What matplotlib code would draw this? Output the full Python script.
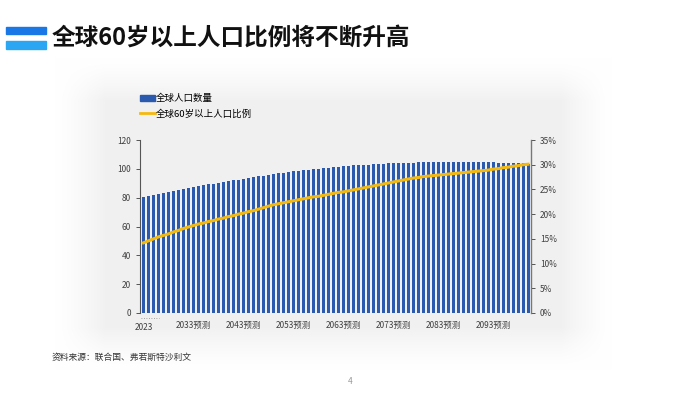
import numpy as np
import matplotlib
matplotlib.use("Agg")
import matplotlib.pyplot as plt
from matplotlib.patches import Rectangle, Patch
from matplotlib.lines import Line2D

plt.rcParams['font.family'] = ['Noto Sans CJK SC', 'DejaVu Sans']

# data
years = list(range(2023, 2101))
population = [
    80.5, 81.2, 82.0, 82.7, 83.4, 84.1, 84.8, 85.4, 86.1, 86.8,
    87.4, 88.0, 88.6, 89.2, 89.8, 90.4, 90.9, 91.5, 92.0, 92.5,
    93.0, 93.6, 94.2, 94.8, 95.3, 95.8, 96.3, 96.8, 97.3, 97.8,
    98.2, 98.6, 99.0, 99.4, 99.8, 100.2, 100.6, 100.9, 101.2, 101.5,
    101.8, 102.1, 102.4, 102.6, 102.8, 103.0, 103.2, 103.4, 103.6, 103.8,
    103.9, 104.0, 104.1, 104.2, 104.3, 104.4, 104.5, 104.5, 104.6, 104.6,
    104.7, 104.7, 104.7, 104.7, 104.7, 104.7, 104.6, 104.6, 104.6, 104.5,
    104.4, 104.3, 104.2, 104.1, 104.0, 103.8, 103.7, 103.5,
]
share_60plus = [
    14.2, 14.6, 15.0, 15.4, 15.7, 16.0, 16.4, 16.7, 17.1, 17.4,
    17.7, 18.0, 18.2, 18.5, 18.7, 19.0, 19.2, 19.5, 19.7, 20.0,
    20.2, 20.5, 20.7, 21.0, 21.3, 21.6, 21.9, 22.1, 22.3, 22.5,
    22.7, 22.9, 23.1, 23.3, 23.5, 23.6, 23.8, 24.0, 24.2, 24.4,
    24.5, 24.7, 24.9, 25.1, 25.3, 25.5, 25.7, 25.9, 26.1, 26.3,
    26.5, 26.7, 26.9, 27.1, 27.3, 27.4, 27.6, 27.7, 27.8, 27.9,
    28.0, 28.1, 28.2, 28.3, 28.4, 28.5, 28.6, 28.7, 28.8, 28.9,
    29.1, 29.2, 29.4, 29.5, 29.7, 29.8, 30.0, 30.1,
]
tick_years = [2023, 2033, 2043, 2053, 2063, 2073, 2083, 2093]
tick_labels = ['2023', '2033预测', '2043预测', '2053预测', '2063预测',
               '2073预测', '2083预测', '2093预测']

title = '全球60岁以上人口比例将不断升高'
source = '资料来源：联合国、弗若斯特沙利文'

BLUE = '#2a59ad'
YELLOW = '#f4b90f'

fig = plt.figure(figsize=(7, 3.97), dpi=100)
fig.patch.set_facecolor('white')

# soft grey panel behind the chart
bg = fig.add_axes([0, 0, 1, 1])
bg.set_xlim(0, 700)
bg.set_ylim(397, 0)
bg.axis('off')
gx = np.linspace(0, 700, 700)
gy = np.linspace(0, 397, 397)
X, Y = np.meshgrid(gx, gy)
def ramp(v, a, b, w):
    lo = np.clip((v - a) / w, 0, 1)
    hi = np.clip((b - v) / w, 0, 1)
    return lo * hi
mask = ramp(X, 55, 612, 50) * ramp(Y, 58, 370, 42)
mask = mask ** 1.3
img = np.ones((397, 700, 3))
img -= mask[..., None] * 0.055
bg.imshow(img, extent=(0, 700, 397, 0), aspect='auto', zorder=0)

# title icon
bg.add_patch(Rectangle((6, 27), 40, 7, color='#1a78e6', zorder=2))
bg.add_patch(Rectangle((6, 41), 40, 8, color='#2aa6f2', zorder=2))
fig.text(52 / 700, 1 - 38 / 397, title, fontsize=17, fontweight='bold',
         va='center', ha='left', color='#111111')

fig.text(52 / 700, 1 - 357 / 397, source, fontsize=6.3, va='center',
         ha='left', color='#333333')
fig.text(350 / 700, 1 - 381 / 397, '4', fontsize=6, va='center',
         ha='center', color='#999999')

ax = fig.add_axes([140 / 700, 1 - 313 / 397, 391 / 700, 173 / 397])
ax.patch.set_alpha(0)
x = np.arange(len(years))
ax.bar(x, population, width=0.6, color=BLUE, zorder=2)
ax.set_xlim(-0.7, len(years) - 0.4)
ax.set_ylim(0, 120)
ax.set_yticks(range(0, 121, 20))
ax.set_xticks([years.index(y) for y in tick_years])
ax.set_xticklabels(tick_labels)
ax.tick_params(axis='x', length=0, labelsize=6, colors='#404040', pad=6)
ax.get_xticklabels()[0].set_y(-0.012)
ax.tick_params(axis='y', length=3, width=0.7, labelsize=6, colors='#404040',
               direction='out', color='#555555')
for s in ['top', 'right', 'bottom']:
    ax.spines[s].set_visible(False)
ax.spines['left'].set_color('#555555')
ax.spines['left'].set_linewidth(0.8)
# small dotted marks above the first label
ax.plot([-0.5, 3.2], [-3.3, -3.3], ls=(0, (1, 2)), color='#888888', lw=0.6,
        clip_on=False)

ax2 = ax.twinx()
ax2.plot(x, share_60plus, color=YELLOW, lw=2.2, zorder=3)
ax2.set_ylim(0, 35)
ax2.set_yticks(range(0, 36, 5))
ax2.set_yticklabels([f'{v}%' for v in range(0, 36, 5)])
ax2.tick_params(axis='y', length=3, width=0.7, labelsize=6, colors='#404040',
                color='#555555')
for s in ['top', 'left', 'bottom']:
    ax2.spines[s].set_visible(False)
ax2.spines['right'].set_color('#777777')
ax2.spines['right'].set_linewidth(1.0)

handles = [Patch(color=BLUE, label='全球人口数量'),
           Line2D([], [], color=YELLOW, lw=2, label='全球60岁以上人口比例')]
fig.legend(handles=handles, loc='upper left',
           bbox_to_anchor=(140 / 700, 1 - 94 / 397), frameon=False,
           fontsize=6.8, handlelength=1.6, handleheight=0.6,
           handletextpad=0.1, labelspacing=0.6, borderaxespad=0,
           borderpad=0)

fig.savefig('out.png', dpi=100)
